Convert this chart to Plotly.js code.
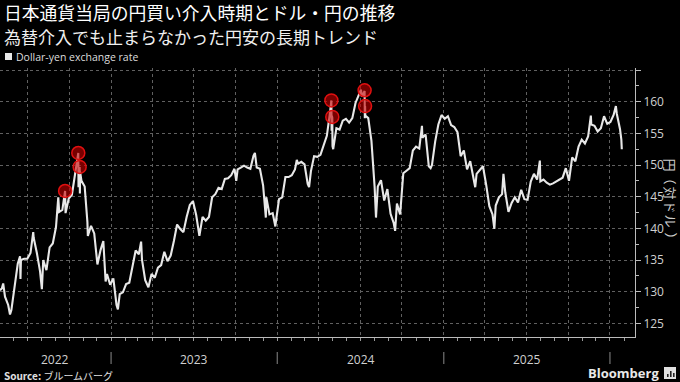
<!DOCTYPE html>
<html>
<head>
<meta charset="utf-8">
<script src="https://cdn.plot.ly/plotly-3.0.1.min.js"></script>
<style>
html,body{margin:0;padding:0;background:#000;}
#chart{width:680px;height:382px;}
</style>
</head>
<body>
<div id="chart"></div>
<script>
// Dollar-yen exchange rate (yen per dollar)
const rateDates = [
"2022-05-02","2022-05-06","2022-05-09","2022-05-13","2022-05-20","2022-05-24","2022-05-27",
"2022-06-03","2022-06-10","2022-06-15","2022-06-16","2022-06-17","2022-06-24","2022-07-01",
"2022-07-08","2022-07-14","2022-07-15","2022-07-22","2022-07-29","2022-08-02","2022-08-05",
"2022-08-12","2022-08-19","2022-08-26","2022-09-02","2022-09-07","2022-09-09","2022-09-16",
"2022-09-22","2022-09-23","2022-09-30","2022-10-07","2022-10-14","2022-10-21","2022-10-21 12:00",
"2022-10-24","2022-10-24 12:00","2022-10-25","2022-10-28","2022-11-04","2022-11-10","2022-11-11",
"2022-11-18","2022-11-25","2022-12-02","2022-12-09","2022-12-15","2022-12-16","2022-12-20",
"2022-12-23","2022-12-30",
"2023-01-06","2023-01-13","2023-01-16","2023-01-20","2023-01-27","2023-02-03","2023-02-10",
"2023-02-17","2023-02-24","2023-03-03","2023-03-08","2023-03-10","2023-03-17","2023-03-24",
"2023-03-31","2023-04-07","2023-04-14","2023-04-21","2023-04-28","2023-05-05","2023-05-12",
"2023-05-19","2023-05-26","2023-06-02","2023-06-09","2023-06-16","2023-06-23","2023-06-30",
"2023-07-07","2023-07-14","2023-07-21","2023-07-28","2023-08-04","2023-08-11","2023-08-18",
"2023-08-25","2023-09-01","2023-09-08","2023-09-15","2023-09-22","2023-09-29","2023-10-03",
"2023-10-06","2023-10-13","2023-10-20","2023-10-27","2023-11-03","2023-11-10","2023-11-13",
"2023-11-17","2023-11-24","2023-12-01","2023-12-07","2023-12-08","2023-12-15","2023-12-22",
"2023-12-28","2023-12-29",
"2024-01-05","2024-01-12","2024-01-19","2024-01-26","2024-02-02","2024-02-09","2024-02-13",
"2024-02-16","2024-02-23","2024-03-01","2024-03-08","2024-03-11","2024-03-15","2024-03-22",
"2024-03-29","2024-04-05","2024-04-12","2024-04-19","2024-04-26","2024-04-29","2024-04-29 12:00",
"2024-04-30","2024-05-01","2024-05-01 12:00","2024-05-03","2024-05-10","2024-05-17","2024-05-24",
"2024-05-31","2024-06-07","2024-06-14","2024-06-21","2024-06-28","2024-07-03","2024-07-05",
"2024-07-11","2024-07-11 12:00","2024-07-12","2024-07-12 12:00","2024-07-19","2024-07-26",
"2024-08-02","2024-08-05","2024-08-09","2024-08-16","2024-08-23","2024-08-30","2024-09-06",
"2024-09-13","2024-09-16","2024-09-20","2024-09-27","2024-10-04","2024-10-11","2024-10-18",
"2024-10-25","2024-11-01","2024-11-08","2024-11-14","2024-11-15","2024-11-22","2024-11-29",
"2024-12-03","2024-12-06","2024-12-13","2024-12-20","2024-12-27",
"2025-01-03","2025-01-10","2025-01-17","2025-01-24","2025-01-31","2025-02-07","2025-02-14",
"2025-02-21","2025-02-28","2025-03-07","2025-03-11","2025-03-14","2025-03-21","2025-03-28",
"2025-04-04","2025-04-11","2025-04-18","2025-04-22","2025-04-25","2025-05-02","2025-05-09",
"2025-05-12","2025-05-16","2025-05-23","2025-05-30","2025-06-06","2025-06-13","2025-06-20",
"2025-06-27","2025-07-04","2025-07-11","2025-07-18","2025-07-25","2025-07-31","2025-08-01",
"2025-08-08","2025-08-15","2025-08-22","2025-08-29","2025-09-05","2025-09-12","2025-09-19",
"2025-09-26","2025-10-03","2025-10-10","2025-10-17","2025-10-24","2025-10-31","2025-11-07",
"2025-11-14","2025-11-20","2025-11-21","2025-11-28","2025-12-05","2025-12-12","2025-12-19",
"2025-12-26","2026-01-02","2026-01-09","2026-01-14","2026-01-16","2026-01-23","2026-01-26",
"2026-01-27"
];
const rateValues = [
130.2,130.5,131.3,129.2,127.9,126.4,127.1,
130.9,134.4,135.6,132.0,135.0,135.2,135.2,
136.1,139.4,138.5,136.1,133.2,130.4,135.0,
133.4,137.0,137.6,140.2,144.9,142.6,142.9,
145.9,142.4,144.7,145.3,148.7,151.9,146.5,
149.7,145.5,148.9,147.5,146.6,141.0,138.8,
140.4,139.2,134.3,136.6,138.0,136.7,131.6,
132.8,131.1,
132.1,127.9,127.2,129.6,129.9,131.2,131.4,
134.1,136.5,135.9,137.9,135.0,131.8,130.7,
132.8,132.2,133.8,134.2,136.3,134.8,135.7,
138.0,140.6,139.9,139.4,141.8,143.7,144.3,
142.1,138.8,141.8,141.2,141.8,144.9,145.4,
146.4,146.2,147.8,147.9,148.4,149.4,147.5,
149.3,149.6,149.9,149.6,149.4,151.5,151.9,
149.6,149.4,146.8,141.7,144.9,142.2,142.4,
140.3,141.0,
144.6,144.9,148.1,148.1,148.4,149.3,150.8,
150.2,150.5,150.1,147.0,146.5,149.0,151.4,
151.3,151.6,153.3,154.6,158.3,160.2,155.4,
157.8,157.5,153.0,152.5,155.8,155.6,157.0,
157.3,156.7,157.4,159.8,160.9,161.9,160.8,
161.7,157.4,159.3,157.8,157.4,153.8,
146.5,141.7,146.6,147.6,144.4,146.2,142.3,
140.8,139.6,143.9,142.2,148.7,149.1,149.5,
152.3,152.9,152.6,156.2,154.3,154.8,149.8,
149.5,150.0,153.7,156.4,157.9,
157.3,157.7,156.3,156.0,155.2,151.4,152.3,
149.3,150.6,148.0,146.5,148.6,149.3,149.8,
146.9,143.5,142.2,139.9,143.6,144.9,145.4,
148.6,145.7,142.6,144.0,144.9,144.1,146.1,
144.6,144.5,147.4,148.6,147.7,150.7,147.4,
147.7,147.2,146.9,147.1,147.4,147.7,148.0,
149.5,147.5,151.2,150.6,152.9,154.0,153.4,
154.5,157.8,156.4,156.2,155.3,155.8,157.7,
156.5,156.8,157.9,159.3,158.1,155.7,154.0,
152.5
];

// Intervention (yen-buying) dates and levels
const interventionDates = ["2022-09-22","2022-10-21","2022-10-24","2024-04-29","2024-05-01","2024-07-11","2024-07-12"];
const interventionValues = [145.9,151.9,149.7,160.2,157.6,161.8,159.3];

const yTickVals = [125,130,135,140,145,150,155,160,165];
const yTickText = ["125","130","135","140","145","150","155","160",""];
const yearStarts = ["2023-01-01","2024-01-01","2025-01-01","2026-01-01"];
const yearLabels = ["2022","2023","2024","2025"];
const yearLabelPos = ["2022-08-31","2023-07-02","2024-07-02","2025-07-02"];

const titleText = "日本通貨当局の円買い介入時期とドル・円の推移";
const subtitleText = "為替介入でも止まらなかった円安の長期トレンド";
const legendText = "Dollar-yen exchange rate";
const yTitleText = "円（対ドル）";

const FONT = "'Noto Sans CJK JP', 'Noto Sans', sans-serif";
const LATIN = "'Open Sans', 'Noto Sans', sans-serif";

const traces = [
  {
    type: "scatter", mode: "lines",
    x: rateDates, y: rateValues,
    line: {color: "#e8e8e8", width: 2.1},
    hoverinfo: "skip", showlegend: false
  },
  {
    type: "scatter", mode: "markers",
    x: interventionDates, y: interventionValues,
    marker: {size: 13, color: "rgba(200,0,0,0.6)", line: {color: "#e01010", width: 1.5}},
    showlegend: false
  }
];

// plot area: x 0..635 px, y 68..337 px
const py = p => (337 - p) / 269;
const px = p => p / 635;

const shapes = yearStarts.map(d => ({
  type: "line", xref: "x", yref: "paper", x0: d, x1: d, y0: py(352), y1: py(364),
  line: {color: "#8a8a8a", width: 1}
}));
shapes.push({type: "rect", xref: "paper", yref: "paper", x0: px(5), x1: px(12), y0: py(60), y1: py(53),
  fillcolor: "#e8e8e8", line: {width: 0}});
// Bloomberg icon
shapes.push({type: "rect", xref: "paper", yref: "paper", x0: px(664), x1: px(676), y0: py(379), y1: py(367),
  fillcolor: "#e0e0e0", line: {width: 0}});
[[667,374],[670,371],[673,373]].forEach(b => shapes.push({type: "rect", xref: "paper", yref: "paper",
  x0: px(b[0]), x1: px(b[0] + 1.6), y0: py(377), y1: py(b[1]), fillcolor: "#222", line: {width: 0}}));

const annotations = [
  {text: titleText, xref: "paper", yref: "paper", x: px(2), y: py(12), xanchor: "left", yanchor: "middle",
    showarrow: false, font: {family: FONT, size: 17.8, color: "#ffffff"}},
  {text: subtitleText, xref: "paper", yref: "paper", x: px(2), y: py(36), xanchor: "left", yanchor: "middle",
    showarrow: false, font: {family: FONT, size: 17, color: "#f0f0f0"}},
  {text: legendText, xref: "paper", yref: "paper", x: px(14), y: py(56.5), xanchor: "left", yanchor: "middle",
    showarrow: false, font: {family: LATIN, size: 10.5, color: "#dddddd"}},
  {text: "<b>Source:</b> <span style='font-size:10px'>ブルームバーグ</span>", xref: "paper", yref: "paper", x: px(2), y: py(375), xanchor: "left", yanchor: "middle",
    showarrow: false, font: {family: FONT, size: 10, color: "#e0e0e0"}},
  {text: "<b>Bloomberg</b>", xref: "paper", yref: "paper", x: px(661), y: py(373), xanchor: "right", yanchor: "middle",
    showarrow: false, font: {family: LATIN, size: 13, color: "#e8e8e8"}}
];
// right-axis title, set sideways one character at a time (reads top to bottom)
const yTitlePos = [165, 178, 193, 207, 221, 239];
Array.from(yTitleText).forEach((ch, i) => annotations.push({
  text: ch, xref: "paper", yref: "paper", x: px(670.5), y: py(yTitlePos[i]), xanchor: "center", yanchor: "middle",
  textangle: 90, showarrow: false, font: {family: FONT, size: 13, color: "#cccccc"}
}));
yearLabels.forEach((t, i) => annotations.push({
  text: t, xref: "x", yref: "paper", x: yearLabelPos[i], y: py(359), xanchor: "center", yanchor: "middle",
  showarrow: false, font: {family: LATIN, size: 12, color: "#d0d0d0"}
}));

const layout = {
  width: 680, height: 382,
  paper_bgcolor: "#000000", plot_bgcolor: "#000000",
  margin: {l: 0, r: 45, t: 68, b: 45, pad: 0},
  showlegend: false,
  xaxis: {
    type: "date", range: ["2022-05-02", "2026-02-25"],
    showgrid: true, gridcolor: "#606060", griddash: "dot", gridwidth: 1,
    dtick: "M3", tick0: "2022-01-01",
    showticklabels: false, ticks: "outside", ticklen: 3, tickcolor: "#999",
    minor: {dtick: "M1", ticks: "outside", ticklen: 3, tickcolor: "#999", showgrid: false},
    showline: true, linecolor: "#bbbbbb", linewidth: 1,
    zeroline: false, fixedrange: true
  },
  yaxis: {
    side: "right", range: [122.84, 165.32],
    tickvals: yTickVals, ticktext: yTickText,
    showgrid: true, gridcolor: "#606060", griddash: "dot", gridwidth: 1,
    ticks: "outside", ticklen: 5, tickcolor: "#bbbbbb",
    minor: {dtick: 2.5, tick0: 125, ticks: "outside", ticklen: 3, tickcolor: "#bbbbbb", showgrid: false},
    showline: true, linecolor: "#bbbbbb", linewidth: 1,
    tickfont: {family: LATIN, size: 12, color: "#d0d0d0"},
    zeroline: false, fixedrange: true
  },
  shapes: shapes,
  annotations: annotations
};

Plotly.newPlot("chart", traces, layout, {staticPlot: true, displayModeBar: false});
</script>
</body>
</html>
